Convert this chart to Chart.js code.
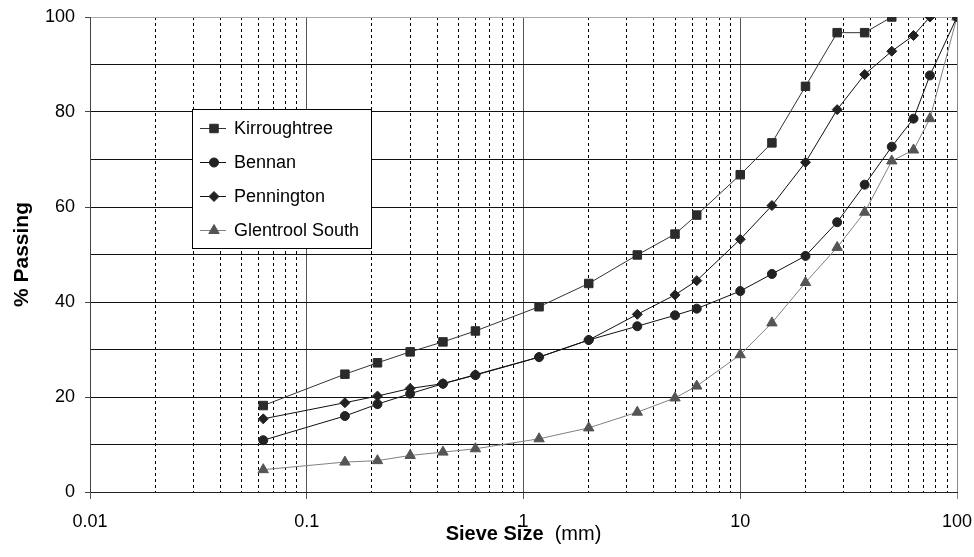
<!DOCTYPE html>
<html>
<head>
  <title>Sieve Size Grading Curves</title>
  <script src="https://cdn.jsdelivr.net/npm/chart.js"></script>
  <style>
    body { margin: 0; background-color: #fff; }
    #wrap { width: 974px; height: 557px; }
  </style>
</head>
<body>
<div id="wrap"><canvas id="myChart" width="974" height="557"></canvas></div>

<script>
    // sieve sizes (mm) and % passing
    const kirroughtreeSieve = [0.063, 0.15, 0.212, 0.3, 0.425, 0.6, 1.18, 2, 3.35, 5, 6.3, 10, 14, 20, 28, 37.5, 50];
    const kirroughtreePass  = [18.2, 24.8, 27.2, 29.5, 31.6, 33.9, 39.0, 43.9, 49.9, 54.3, 58.3, 66.8, 73.5, 85.4, 96.7, 96.7, 100];

    const bennanSieve = [0.063, 0.15, 0.212, 0.3, 0.425, 0.6, 1.18, 2, 3.35, 5, 6.3, 10, 14, 20, 28, 37.5, 50, 63, 75, 100];
    const bennanPass  = [10.9, 16.0, 18.5, 20.7, 22.8, 24.6, 28.4, 32.0, 34.9, 37.2, 38.6, 42.3, 45.9, 49.7, 56.8, 64.7, 72.7, 78.6, 87.7, 100];

    const penningtonSieve = [0.063, 0.15, 0.212, 0.3, 0.425, 0.6, 1.18, 2, 3.35, 5, 6.3, 10, 14, 20, 28, 37.5, 50, 63, 75];
    const penningtonPass  = [15.4, 18.8, 20.2, 21.8, 22.8, 24.7, 28.4, 32.0, 37.4, 41.5, 44.5, 53.2, 60.3, 69.4, 80.5, 87.9, 92.8, 96.1, 100];

    const glentroolSieve = [0.063, 0.15, 0.212, 0.3, 0.425, 0.6, 1.18, 2, 3.35, 5, 6.3, 10, 14, 20, 28, 37.5, 50, 63, 75, 100];
    const glentroolPass  = [4.7, 6.3, 6.6, 7.7, 8.4, 9.1, 11.2, 13.5, 16.8, 19.8, 22.3, 28.9, 35.6, 44.1, 51.5, 58.9, 69.7, 72.0, 78.6, 100];

    const xTickLabels = [0.01, 0.1, 1, 10, 100];
    const yTickLabels = [0, 20, 40, 60, 80, 100];

    const FONT = '"Liberation Sans", Arial, sans-serif';

    function toPoints(xs, ys) {
        return xs.map((x, i) => ({ x: x, y: ys[i] }));
    }

    // minor grid positions 2..9 of each decade
    const minorTicks = [];
    for (let d = 0; d < xTickLabels.length - 1; d++) {
        for (let m = 1; m <= 9; m++) {
            minorTicks.push(+(m * xTickLabels[d]).toPrecision(3));
        }
    }
    minorTicks.push(100);

    // legend box drawn inside the plot
    const legendBox = {
        id: 'legendBox',
        afterDraw(chart) {
            const ctx = chart.ctx;
            const a = chart.chartArea;
            const x0 = a.left + 102, y0 = a.top + 92, w = 179, h = 139;
            ctx.save();
            ctx.fillStyle = '#fff';
            ctx.fillRect(x0, y0, w, h);
            ctx.strokeStyle = '#000';
            ctx.lineWidth = 1;
            ctx.strokeRect(x0 + 0.5, y0 + 0.5, w, h);
            ctx.font = '18px ' + FONT;
            ctx.textBaseline = 'middle';
            chart.data.datasets.forEach((ds, i) => {
                const cy = y0 + 19 + i * 34;
                ctx.strokeStyle = ds.borderColor;
                ctx.lineWidth = 1;
                ctx.beginPath();
                ctx.moveTo(x0 + 8, cy + 0.5);
                ctx.lineTo(x0 + 34, cy + 0.5);
                ctx.stroke();
                ctx.fillStyle = ds.pointBackgroundColor;
                ctx.strokeStyle = ds.pointBorderColor;
                Chart.helpers.drawPoint(ctx, {
                    pointStyle: ds.pointStyle, radius: ds.pointRadius, borderWidth: 1, rotation: 0
                }, x0 + 22, cy + 0.5);
                ctx.fillStyle = '#000';
                ctx.fillText(ds.label, x0 + 42, cy + 1);
            });
            ctx.restore();
        }
    };

    // x title with bold name and normal unit
    const xTitle = {
        id: 'xTitle',
        afterDraw(chart) {
            const ctx = chart.ctx;
            const s = chart.scales.x;
            const cx = (s.left + s.right) / 2;
            const y = 540;
            const part1 = 'Sieve Size';
            const part2 = '  (mm)';
            ctx.save();
            ctx.textBaseline = 'alphabetic';
            ctx.font = 'bold 20px ' + FONT;
            const w1 = ctx.measureText(part1).width;
            ctx.font = '20px ' + FONT;
            const w2 = ctx.measureText(part2).width;
            const left = cx - (w1 + w2) / 2;
            ctx.fillStyle = '#000';
            ctx.font = 'bold 20px ' + FONT;
            ctx.fillText(part1, left, y);
            ctx.font = '20px ' + FONT;
            ctx.fillText(part2, left + w1, y);
            ctx.restore();
        }
    };

    const ctx = document.getElementById('myChart').getContext('2d');
    const myChart = new Chart(ctx, {
        type: 'line',
        data: {
            datasets: [{
                label: 'Kirroughtree',
                data: toPoints(kirroughtreeSieve, kirroughtreePass),
                borderColor: '#333',
                borderWidth: 1,
                pointStyle: 'rect',
                pointRadius: 6,
                pointBackgroundColor: '#2b2b2b',
                pointBorderColor: '#2b2b2b',
                pointBorderWidth: 1
            }, {
                label: 'Bennan',
                data: toPoints(bennanSieve, bennanPass),
                borderColor: '#111',
                borderWidth: 1,
                pointStyle: 'circle',
                pointRadius: 4.5,
                pointBackgroundColor: '#222',
                pointBorderColor: '#222',
                pointBorderWidth: 1
            }, {
                label: 'Pennington',
                data: toPoints(penningtonSieve, penningtonPass),
                borderColor: '#111',
                borderWidth: 1,
                pointStyle: 'rectRot',
                pointRadius: 5,
                pointBackgroundColor: '#222',
                pointBorderColor: '#222',
                pointBorderWidth: 1
            }, {
                label: 'Glentrool South',
                data: toPoints(glentroolSieve, glentroolPass),
                borderColor: '#808080',
                borderWidth: 1,
                pointStyle: 'triangle',
                pointRadius: 6,
                pointBackgroundColor: '#555',
                pointBorderColor: '#555',
                pointBorderWidth: 1
            }]
        },
        options: {
            responsive: false,
            animation: false,
            layout: { padding: { left: 0, right: 17, top: 17, bottom: 0 } },
            plugins: {
                legend: { display: false },
                tooltip: { enabled: false }
            },
            scales: {
                x: {
                    type: 'logarithmic',
                    min: 0.01,
                    max: 100,
                    afterBuildTicks: (axis) => {
                        axis.ticks = xTickLabels.map(v => ({ value: v }));
                    },
                    afterFit: (scale) => {
                        scale.height = 65;
                        scale.paddingLeft = 0;
                        scale.paddingRight = 0;
                    },
                    ticks: {
                        color: '#000',
                        font: { family: FONT, size: 18 },
                        maxRotation: 0,
                        padding: 12,
                        callback: (v) => String(v)
                    },
                    grid: {
                        color: (c) => (c.tick && c.tick.value === 100) ? '#888' : '#555',
                        lineWidth: 1,
                        tickLength: 7
                    },
                    border: { color: '#222' }
                },
                xMinor: {
                    type: 'logarithmic',
                    position: 'bottom',
                    min: 0.01,
                    max: 100,
                    afterBuildTicks: (axis) => {
                        axis.ticks = minorTicks.map(v => ({ value: v }));
                    },
                    afterFit: (scale) => {
                        scale.height = 0;
                        scale.paddingLeft = 0;
                        scale.paddingRight = 0;
                    },
                    ticks: { display: false },
                    grid: {
                        drawTicks: false,
                        lineWidth: 1,
                        color: (c) => {
                            const v = c.tick ? c.tick.value : 0;
                            return xTickLabels.includes(v) ? 'rgba(0,0,0,0)' : '#000';
                        }
                    },
                    border: { display: false, dash: [3, 3] }
                },
                y: {
                    min: 0,
                    max: 100,
                    afterFit: (scale) => {
                        scale.width = 90;
                        scale.paddingTop = 0;
                        scale.paddingBottom = 0;
                    },
                    ticks: {
                        stepSize: 10,
                        color: '#000',
                        font: { family: FONT, size: 18 },
                        padding: 10,
                        callback: (v) => yTickLabels.includes(v) ? String(v) : ''
                    },
                    grid: {
                        color: (c) => (c.tick && c.tick.value === 100) ? '#aaa' : '#111',
                        tickColor: (c) => (c.tick && yTickLabels.includes(c.tick.value)) ? '#444' : 'rgba(0,0,0,0)',
                        tickLength: 5
                    },
                    border: { color: '#444' },
                    title: {
                        display: true,
                        text: '% Passing',
                        color: '#000',
                        font: { family: FONT, size: 21, weight: 'bold' },
                        padding: { top: 10, bottom: 0 }
                    }
                }
            }
        },
        plugins: [legendBox, xTitle]
    });
</script>
</body>
</html>
